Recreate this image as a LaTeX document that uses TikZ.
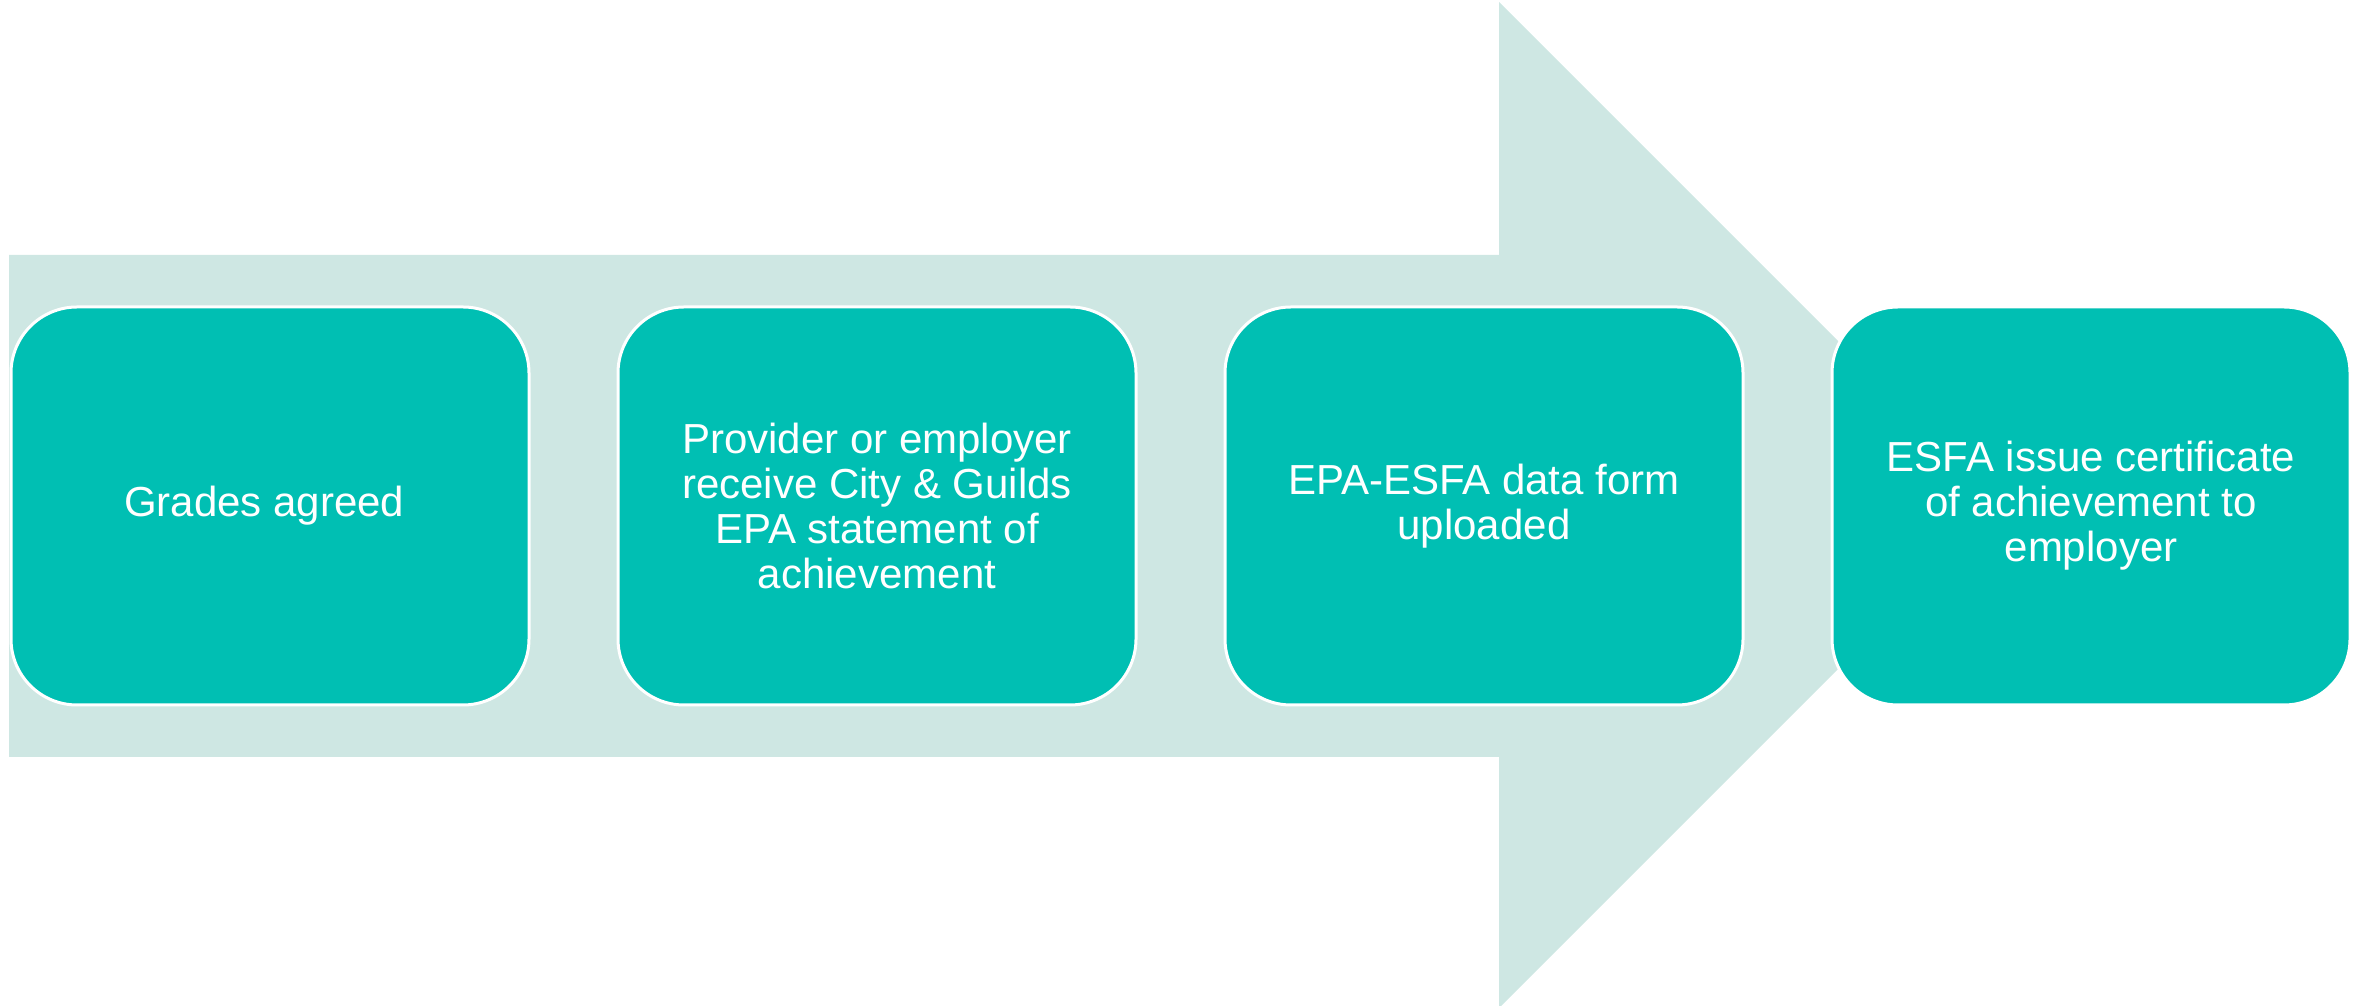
\documentclass[tikz,border=0pt]{standalone}
\usepackage{fontspec}
\setmainfont{Liberation Sans}
\usetikzlibrary{positioning}

\definecolor{stagefill}{RGB}{0,191,179}
\definecolor{arrowtint}{RGB}{206,231,227}

\begin{document}
\begin{tikzpicture}[x=1pt,y=1pt,node distance = 0mm and 89pt,
    stagebox/.style={rectangle,rounded corners=66pt,minimum width=518pt,minimum height=398pt,
        outer sep=0pt,fill=stagefill,draw=white,line width=3pt,text=white,align=center,
        font=\fontsize{42}{45}\selectfont},
   ]
    \useasboundingbox (0,0) rectangle (2364,1006);

    % big pale arrow behind the stages
    \fill[arrowtint] (9,249) -- (1499,249) -- (1499,-2) -- (2002,501)
        -- (1499,1004) -- (1499,751) -- (9,751) -- cycle;

    \node (grades)  [stagebox] at (270,500) { Grades agreed };
    \node (receive) [stagebox,right=of grades] { Provider or employer\\ receive City \& Guilds\\ EPA statement of\\ achievement };
    \node (upload)  [stagebox,right=of receive] { EPA-ESFA data form\\ uploaded };
    \node (issue)   [stagebox,right=of upload] { ESFA issue certificate\\ of achievement to\\ employer };
\end{tikzpicture}
\end{document}
